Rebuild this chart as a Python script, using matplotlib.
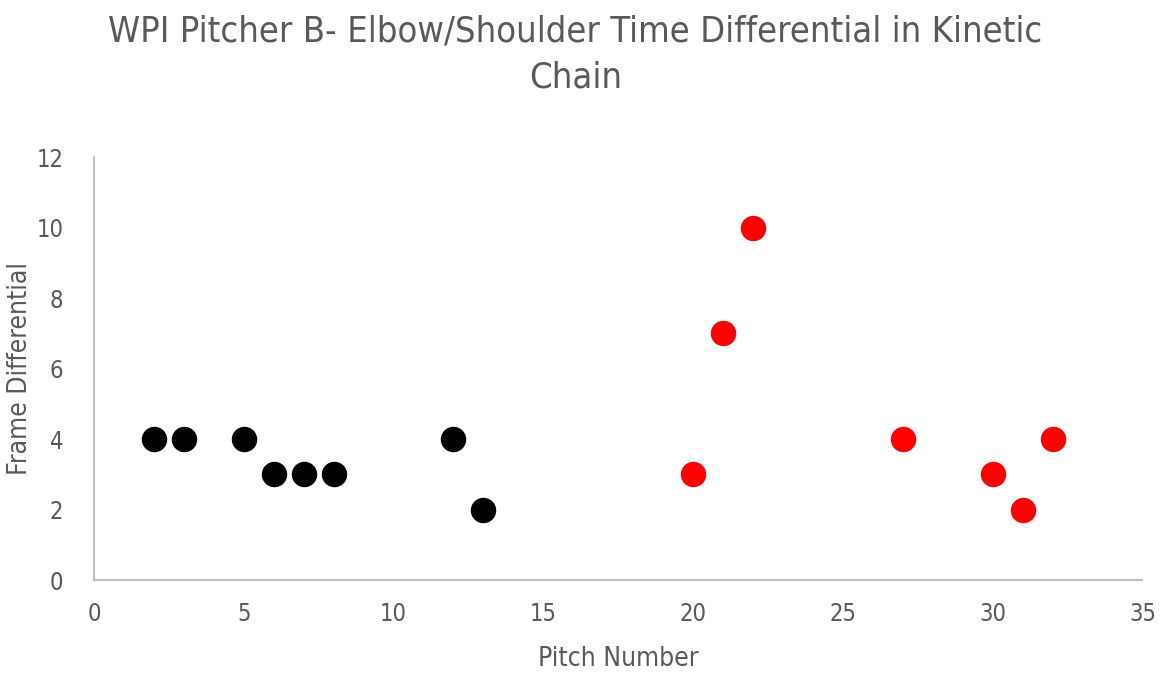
import matplotlib.pyplot as plt

plt.rcParams['font.family'] = ['DejaVu Sans']
plt.rcParams['font.stretch'] = 'condensed'

# pitches before the change (black) and after (red)
early_pitch = [2, 3, 5, 6, 7, 8, 12, 13]
early_diff = [4, 4, 4, 3, 3, 3, 4, 2]
late_pitch = [20, 21, 22, 27, 30, 31, 32]
late_diff = [3, 7, 10, 4, 3, 2, 4]

x_ticks = [0, 5, 10, 15, 20, 25, 30, 35]
y_ticks = [0, 2, 4, 6, 8, 10, 12]

text_color = '#595959'
axis_color = '#bfbfbf'

fig = plt.figure(figsize=(11.67, 6.75), dpi=100)
ax = fig.add_axes([0.0805, 0.1407, 0.8985, 0.6267])

ax.scatter(early_pitch, early_diff, s=300, color='black', zorder=3, clip_on=False)
ax.scatter(late_pitch, late_diff, s=300, color='#ff0000', zorder=3, clip_on=False)

ax.set_xlim(0, 35)
ax.set_ylim(0, 12)
ax.set_xticks(x_ticks)
ax.set_yticks(y_ticks)
ax.tick_params(length=0, labelsize=17, labelcolor=text_color)
ax.tick_params(axis='x', pad=16)
ax.tick_params(axis='y', pad=22)

for side in ['top', 'right']:
    ax.spines[side].set_visible(False)
for side in ['left', 'bottom']:
    ax.spines[side].set_color(axis_color)
    ax.spines[side].set_linewidth(1.5)

ax.set_xlabel('Pitch Number', fontsize=19, color=text_color)
ax.set_ylabel('Frame Differential', fontsize=19, color=text_color)
ax.xaxis.set_label_coords(0.5, -0.155)
ax.yaxis.set_label_coords(-0.058, 0.5)

fig.text(0.493, 0.978, 'WPI Pitcher B- Elbow/Shoulder Time Differential in Kinetic\nChain',
         ha='center', va='top', fontsize=26, color=text_color, linespacing=1.45)

fig.savefig('out.png', dpi=100)
